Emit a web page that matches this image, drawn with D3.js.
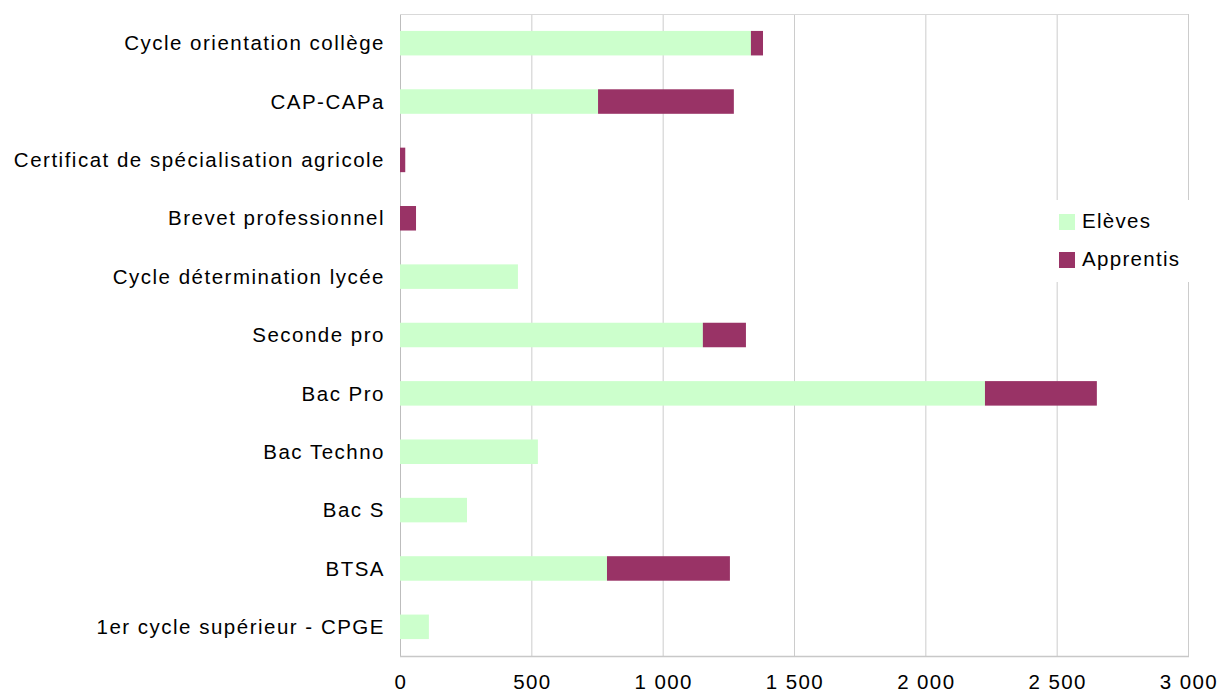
<!DOCTYPE html>
<html lang="fr">
<head>
<meta charset="UTF-8">
<title>Effectifs</title>
<script src="https://cdn.jsdelivr.net/npm/d3@7"></script>
<style>
  body { margin: 0; background: #fff; }
  svg { display: block; font-family: "Liberation Sans", Arial, sans-serif; }
</style>
</head>
<body>
<div id="chart"></div>
<script>
const categories = [
  "Cycle orientation collège", "CAP-CAPa", "Certificat de spécialisation agricole",
  "Brevet professionnel", "Cycle détermination lycée", "Seconde pro", "Bac Pro",
  "Bac Techno", "Bac S", "BTSA", "1er cycle supérieur - CPGE"
]
const eleves    = [1336, 754, 0, 0, 449, 1153, 2227, 525, 255, 788, 110]
const apprentis = [46, 517, 20, 61, 0, 164, 426, 0, 0, 468, 0]
const seriesNames = ["Elèves", "Apprentis"]
const colors = ["#ccffcc", "#993366"]
const xTicks = [0, 500, 1000, 1500, 2000, 2500, 3000]

const width = 1221, height = 695
const margin = { top: 14, right: 33, bottom: 39, left: 400 }

const svg = d3.select("#chart").append("svg")
  .attr("width", width)
  .attr("height", height)

const x = d3.scaleLinear()
  .domain([0, 3000])
  .range([margin.left, width - margin.right])

const y = d3.scaleBand()
  .domain(categories)
  .range([margin.top, height - margin.bottom])
  .paddingInner(0.58)
  .paddingOuter(0.29)

// grid
svg.append("g")
  .selectAll("line")
  .data(xTicks)
  .enter().append("line")
  .attr("x1", d => x(d) + 0.5).attr("x2", d => x(d) + 0.5)
  .attr("y1", margin.top).attr("y2", height - margin.bottom)
  .attr("stroke", d => d === 0 ? "#bdbdbd" : "#cccccc")
  .attr("stroke-width", 1)

svg.append("line")
  .attr("x1", margin.left).attr("x2", width - margin.right)
  .attr("y1", margin.top + 0.5).attr("y2", margin.top + 0.5)
  .attr("stroke", "#d9d9d9")
svg.append("line")
  .attr("x1", margin.left).attr("x2", width - margin.right + 1)
  .attr("y1", height - margin.bottom + 0.5).attr("y2", height - margin.bottom + 0.5)
  .attr("stroke", "#c8c8c8")
  .attr("stroke-width", 1.5)

// stacked bars
const rows = categories.map((c, i) => ({ cat: c, e: eleves[i], a: apprentis[i] }))
const stack = d3.stack().keys(["e", "a"])(rows)

svg.append("g")
  .selectAll("g")
  .data(stack)
  .enter().append("g")
  .attr("fill", (_, i) => colors[i])
  .selectAll("rect")
  .data(d => d.filter(p => p[1] > p[0]))
  .enter().append("rect")
  .attr("x", d => x(d[0]))
  .attr("y", d => y(d.data.cat))
  .attr("width", d => x(d[1]) - x(d[0]))
  .attr("height", y.bandwidth())

// category labels
svg.append("g")
  .selectAll("text")
  .data(categories)
  .enter().append("text")
  .attr("x", margin.left - 15)
  .attr("y", d => y(d) + y.bandwidth() / 2)
  .attr("dy", "0.35em")
  .attr("text-anchor", "end")
  .attr("font-size", 20.5)
  .attr("letter-spacing", 1.5)
  .attr("fill", "#000")
  .text(d => d)

// x tick labels
const fmt = d => d3.format(",")(d).replace(",", " ")
svg.append("g")
  .selectAll("text")
  .data(xTicks)
  .enter().append("text")
  .attr("x", d => x(d) + 1)
  .attr("y", 689)
  .attr("text-anchor", "middle")
  .attr("font-size", 20.5)
  .attr("letter-spacing", 1.4)
  .text(fmt)

// legend
const legend = svg.append("g")
legend.append("rect")
  .attr("x", 1050).attr("y", 200)
  .attr("width", 145).attr("height", 82)
  .attr("fill", "#fff")
seriesNames.forEach((s, i) => {
  const ly = 221 + i * 38
  legend.append("rect")
    .attr("x", 1059).attr("y", ly - 7)
    .attr("width", 16).attr("height", 16)
    .attr("fill", colors[i])
  legend.append("text")
    .attr("x", 1082).attr("y", ly)
    .attr("dy", "0.35em")
    .attr("font-size", 20.5)
    .attr("letter-spacing", 1.3)
    .text(s)
})
</script>
</body>
</html>
